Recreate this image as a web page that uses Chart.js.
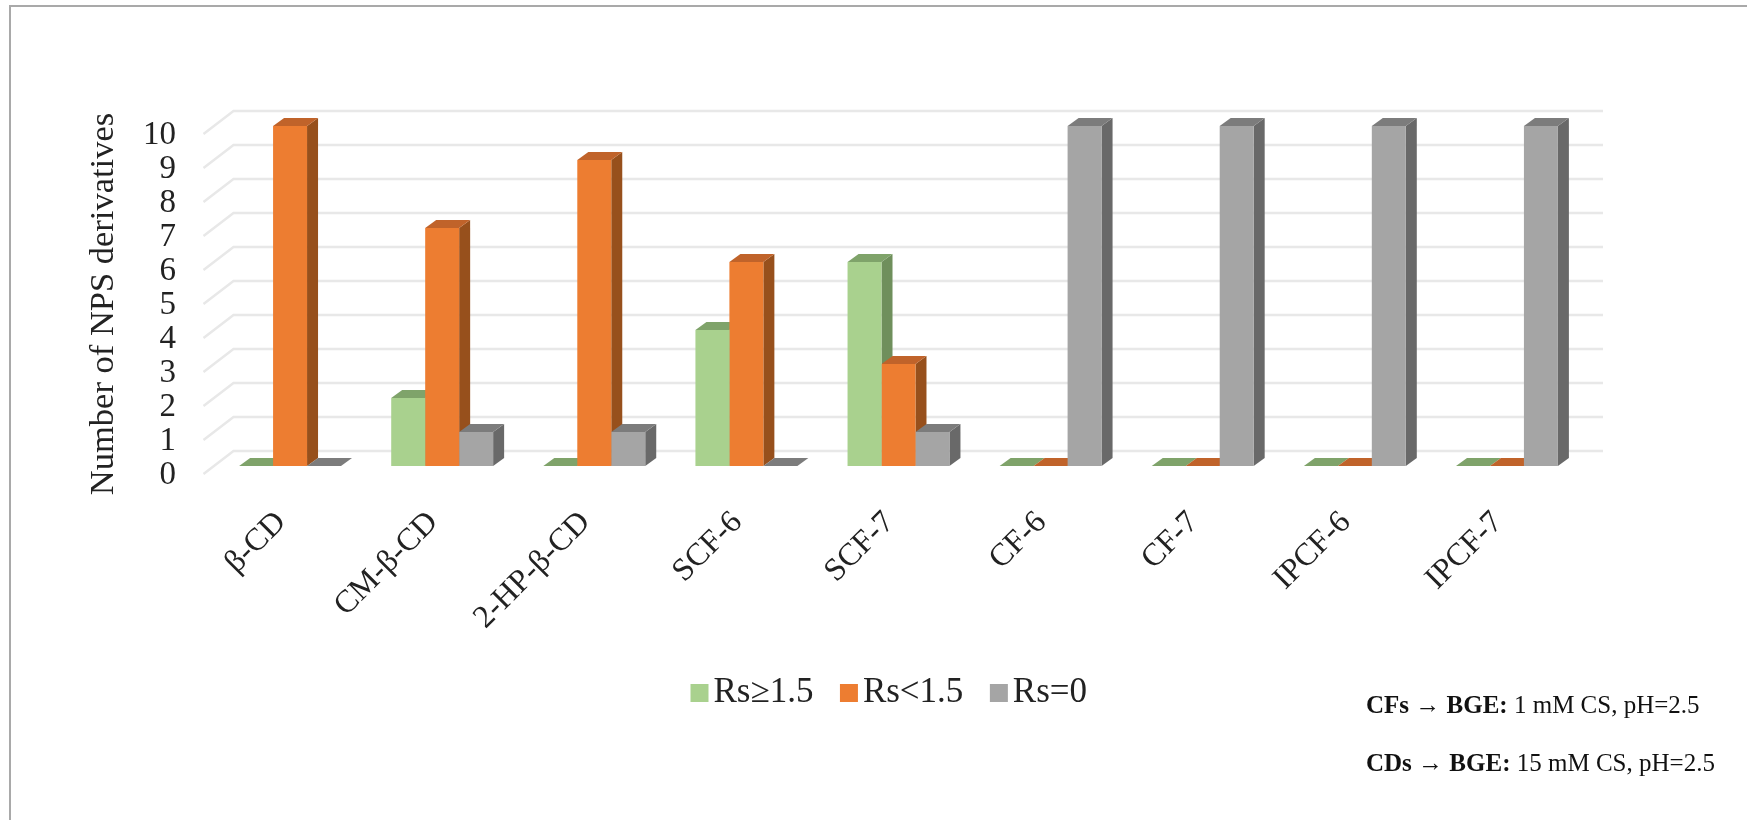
<!DOCTYPE html>
<html lang="en">
<head>
    <meta charset="UTF-8">
    <title>NPS derivatives</title>
    <script src="https://cdn.jsdelivr.net/npm/chart.js"></script>
    <style>
        body {
            margin: 0;
            background: #fff;
            width: 1747px;
            height: 820px;
            overflow: hidden;
            position: relative;
            font-family: "Liberation Serif", serif;
        }
        .frame {
            position: absolute;
            left: 9px;
            top: 5px;
            right: 0;
            bottom: 0;
            border-left: 2px solid #a9a9a9;
            border-top: 2px solid #a9a9a9;
        }
        canvas {
            position: absolute;
            left: 0;
            top: 0;
            filter: blur(0.7px);
        }
        .note {
            position: absolute;
            left: 1366px;
            font-size: 25px;
            color: #111;
            white-space: nowrap;
            filter: blur(0.4px);
        }
    </style>
</head>
<body>
    <div class="frame"></div>
    <canvas id="npsChart" width="1747" height="820"></canvas>
    <div class="note" style="top: 691px"><b>CFs → BGE:</b> 1 mM CS, pH=2.5</div>
    <div class="note" style="top: 749px"><b>CDs → BGE:</b> 15 mM CS, pH=2.5</div>

    <script>
        const categories = ['β-CD', 'CM-β-CD', '2-HP-β-CD', 'SCF-6', 'SCF-7', 'CF-6', 'CF-7', 'IPCF-6', 'IPCF-7'];
        const rsHigh = [0, 2, 0, 4, 6, 0, 0, 0, 0];
        const rsLow = [10, 7, 9, 6, 3, 0, 0, 0, 0];
        const rsZero = [0, 1, 1, 0, 1, 10, 10, 10, 10];
        const yTicks = [0, 1, 2, 3, 4, 5, 6, 7, 8, 9, 10];

        const serif = '"Liberation Serif", serif';
        const fronts = ['#a9d18e', '#ed7d31', '#a5a5a5'];

        // darker faces for the fake 3D look: [top, side]
        const faces = [['#7fa36a', '#6f8f5c'], ['#c0632a', '#97501c'], ['#7c7c7c', '#696969']];

        // gridlines run from the front floor edge to the back wall
        const wall3d = {
            id: 'wall3d',
            beforeDatasetsDraw(chart) {
                const c = chart.ctx, y = chart.scales.y, area = chart.chartArea;
                c.save();
                c.strokeStyle = '#e8e8e8';
                c.lineWidth = 2.5;
                yTicks.forEach(v => {
                    const py = y.getPixelForValue(v);
                    c.beginPath();
                    c.moveTo(area.left - 10.5, py + 8);
                    c.lineTo(area.left + 19.5, py - 15);
                    c.lineTo(area.right + 20, py - 15);
                    c.stroke();
                });
                c.restore();
            }
        };

        // top and side faces, left to right, the native bars paint the fronts afterwards
        const bars3d = {
            id: 'bars3d',
            beforeDatasetsDraw(chart) {
                const c = chart.ctx, dx = 11, dy = 8;
                const poly = (pts, color) => {
                    c.fillStyle = color;
                    c.beginPath();
                    pts.forEach((p, i) => i ? c.lineTo(p[0], p[1]) : c.moveTo(p[0], p[1]));
                    c.closePath();
                    c.fill();
                };
                categories.forEach((cat, i) => {
                    chart.data.datasets.forEach((ds, d) => {
                        const el = chart.getDatasetMeta(d).data[i];
                        const { x, y, base, width } = el.getProps(['x', 'y', 'base', 'width'], true);
                        const l = x - width / 2, r = x + width / 2;
                        poly([[r, y], [r + dx, y - dy], [r + dx, base - dy], [r, base]], faces[d][1]);
                        poly([[l, y], [l + dx, y - dy], [r + dx, y - dy], [r, y]], faces[d][0]);
                    });
                });
            }
        };

        // legend sits at its own spot under the plot
        const legendSpot = {
            id: 'legendSpot',
            afterLayout(chart) {
                const lg = chart.legend;
                const h = lg.height;
                lg.top = 682 - h / 2;
                lg.bottom = lg.top + h;
                lg.left += 58;
                lg.right += 58;
            }
        };

        // legend swatch with the square pushed close to its label
        function swatch(color) {
            const cv = document.createElement('canvas');
            cv.width = 36;
            cv.height = 18;
            const c = cv.getContext('2d');
            c.fillStyle = color;
            c.fillRect(13, 0, 18, 18);
            return cv;
        }

        new Chart(document.getElementById('npsChart'), {
            type: 'bar',
            data: {
                labels: categories,
                datasets: [
                    { label: 'Rs≥1.5', data: rsHigh, backgroundColor: fronts[0] },
                    { label: 'Rs<1.5', data: rsLow, backgroundColor: fronts[1] },
                    { label: 'Rs=0', data: rsZero, backgroundColor: fronts[2] }
                ]
            },
            options: {
                responsive: false,
                animation: false,
                categoryPercentage: 0.67,
                barPercentage: 1,
                layout: { padding: { top: 126, left: 83, right: 164, bottom: 0 } },
                plugins: {
                    tooltip: { enabled: false },
                    legend: {
                        position: 'bottom',
                        labels: {
                            color: '#222',
                            usePointStyle: true,
                            pointStyleWidth: 1,
                            padding: 31,
                            font: { family: serif, size: 35 },
                            generateLabels(chart) {
                                const items = Chart.defaults.plugins.legend.labels.generateLabels(chart);
                                items.forEach((it, i) => { it.pointStyle = swatch(fronts[i]); });
                                return items;
                            }
                        }
                    }
                },
                scales: {
                    x: {
                        grid: { display: false },
                        border: { display: false },
                        ticks: {
                            color: '#222',
                            minRotation: 45,
                            maxRotation: 45,
                            autoSkip: false,
                            padding: 14,
                            labelOffset: -9,
                            font: { family: serif, size: 32 }
                        },
                        afterFit(scale) { scale.height = 262; }
                    },
                    y: {
                        // min below zero so the axis title centres where it does in the picture
                        min: -0.47,
                        max: 10,
                        grid: { display: false },
                        border: { display: false },
                        afterBuildTicks(scale) { scale.ticks = yTicks.map(v => ({ value: v })); },
                        ticks: {
                            color: '#222',
                            padding: 30,
                            labelOffset: 9,
                            autoSkip: false,
                            font: { family: serif, size: 33 }
                        },
                        title: {
                            display: true,
                            text: 'Number of NPS derivatives',
                            color: '#222',
                            padding: 0,
                            font: { family: serif, size: 34.5 }
                        },
                        afterFit(scale) { scale.width = 131; }
                    }
                }
            },
            plugins: [wall3d, bars3d, legendSpot]
        });
    </script>
</body>
</html>
